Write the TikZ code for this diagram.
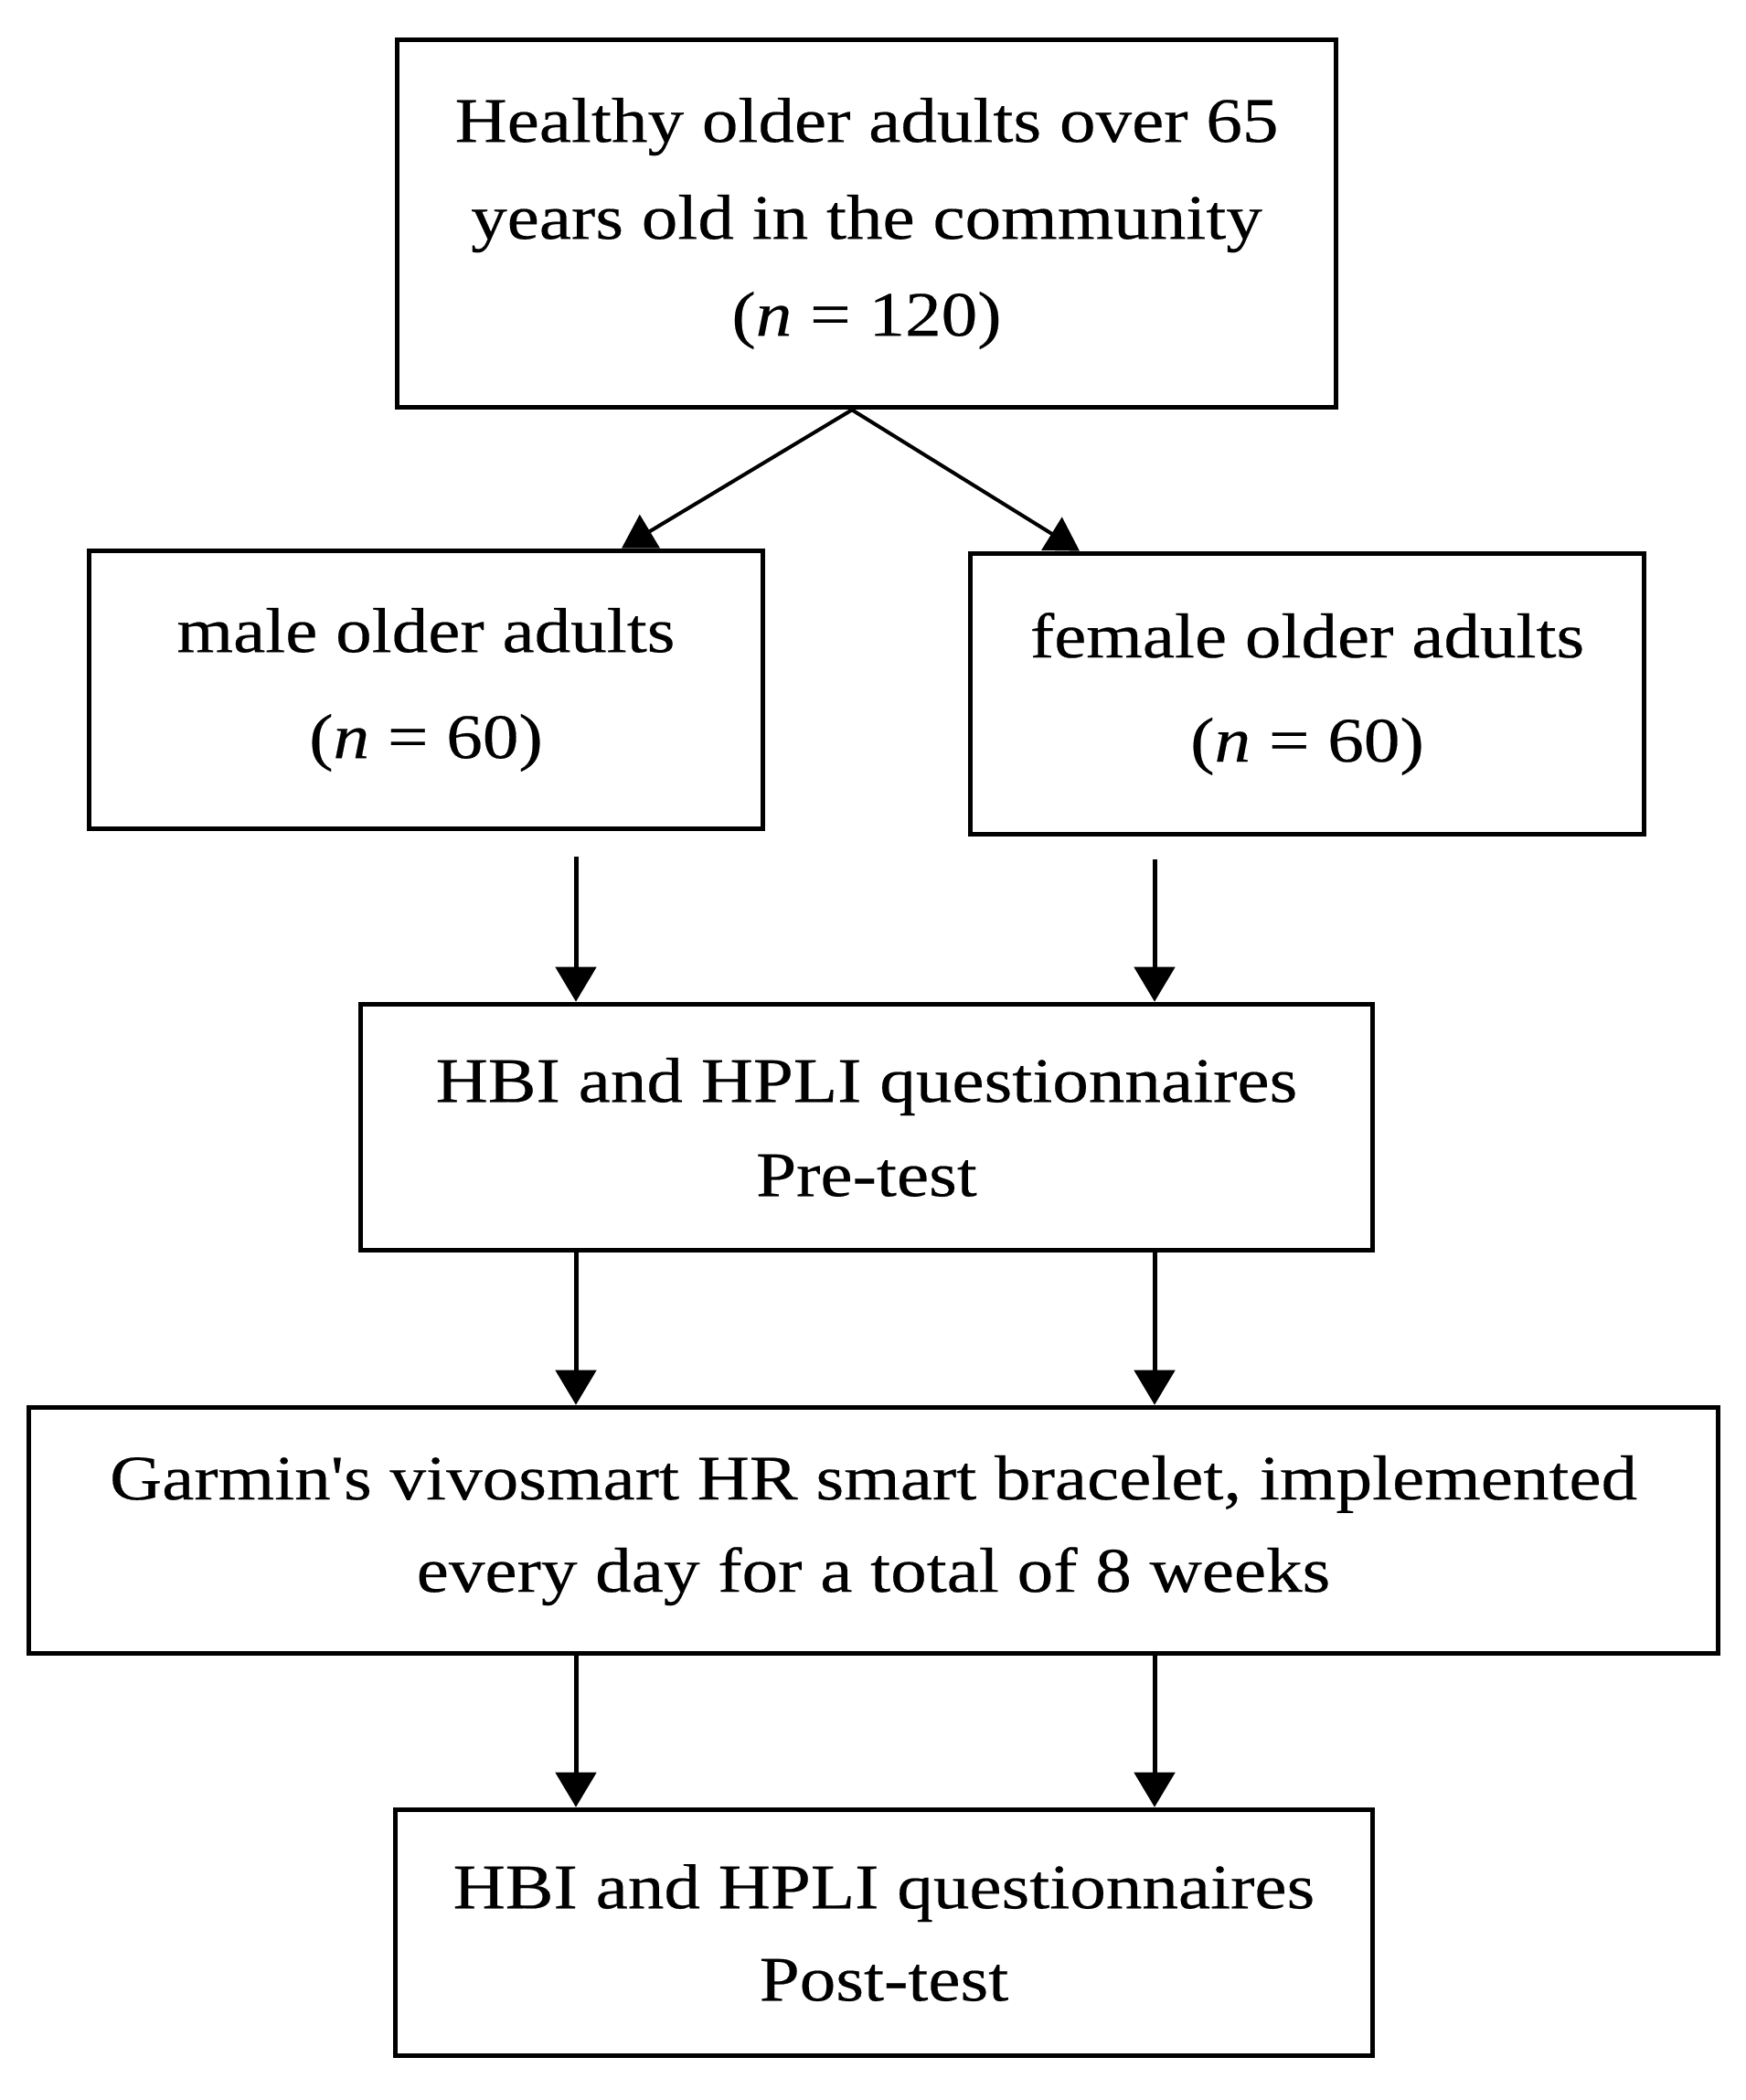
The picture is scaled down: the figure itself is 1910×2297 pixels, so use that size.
\documentclass[tikz,border=0pt]{standalone}
\usepackage{fontspec}
\setmainfont{Liberation Serif}[FakeStretch=1.14,FakeBold=0.3]
\newfontfamily\aposfont{Liberation Serif}[FakeStretch=1.14,FakeBold=0.3]
\usetikzlibrary{arrows.meta}
\begin{document}
\begin{tikzpicture}[x=0.5pt,y=-0.5pt,
  box/.style={draw, line width=2.8pt, inner sep=0pt, align=center,
    font=\fontsize{34.7pt}{#1}\selectfont},
  arr/.style={line width=2.5pt, -{Triangle[width=22pt,length=19pt]}},
  diag/.style={line width=2pt, -{Triangle[width=21pt,length=18pt]}}]
\useasboundingbox (0,0) rectangle (1910,2297);
\node[box=53pt, minimum width=513.5pt, minimum height=201pt] (top) at (948,244.5)
  {Healthy older adults over 65\\years old in the community\\(\textit{n} = 120)};
\node[box=58pt, minimum width=368.5pt, minimum height=152pt] (male) at (466,754.5)
  {male older adults\\(\textit{n} = 60)};
\node[box=57pt, minimum width=368.5pt, minimum height=153.5pt] (female) at (1430,759)
  {female older adults\\(\textit{n} = 60)};
\node[box=51.5pt, minimum width=553.5pt, minimum height=134.5pt] (pre) at (948,1233)
  {HBI and HPLI questionnaires\\Pre-test};
\node[box=50.5pt, minimum width=924pt, minimum height=134.5pt] (garmin) at (955.5,1674)
  {Garmin{\aposfont '}s vivosmart HR smart bracelet, implemented\\every day for a total of 8 weeks};
\node[box=50.5pt, minimum width=534.5pt, minimum height=134.5pt] (post) at (967,2114)
  {HBI and HPLI questionnaires\\Post-test};
\coordinate (ds) at (932,0);
\coordinate (dl) at (680,0);
\coordinate (dr) at (1181,0);
\coordinate (ml) at (630,937);
\coordinate (fr) at (1263,940);
\draw[diag] (top.south -| ds) -- (male.north -| dl);
\draw[diag] (top.south -| ds) -- (female.north -| dr);
\draw[arr] (ml) -- (pre.north -| ml);
\draw[arr] (fr) -- (pre.north -| fr);
\draw[arr] (pre.south -| ml) -- (garmin.north -| ml);
\draw[arr] (pre.south -| fr) -- (garmin.north -| fr);
\draw[arr] (garmin.south -| ml) -- (post.north -| ml);
\draw[arr] (garmin.south -| fr) -- (post.north -| fr);
\end{tikzpicture}
\end{document}
